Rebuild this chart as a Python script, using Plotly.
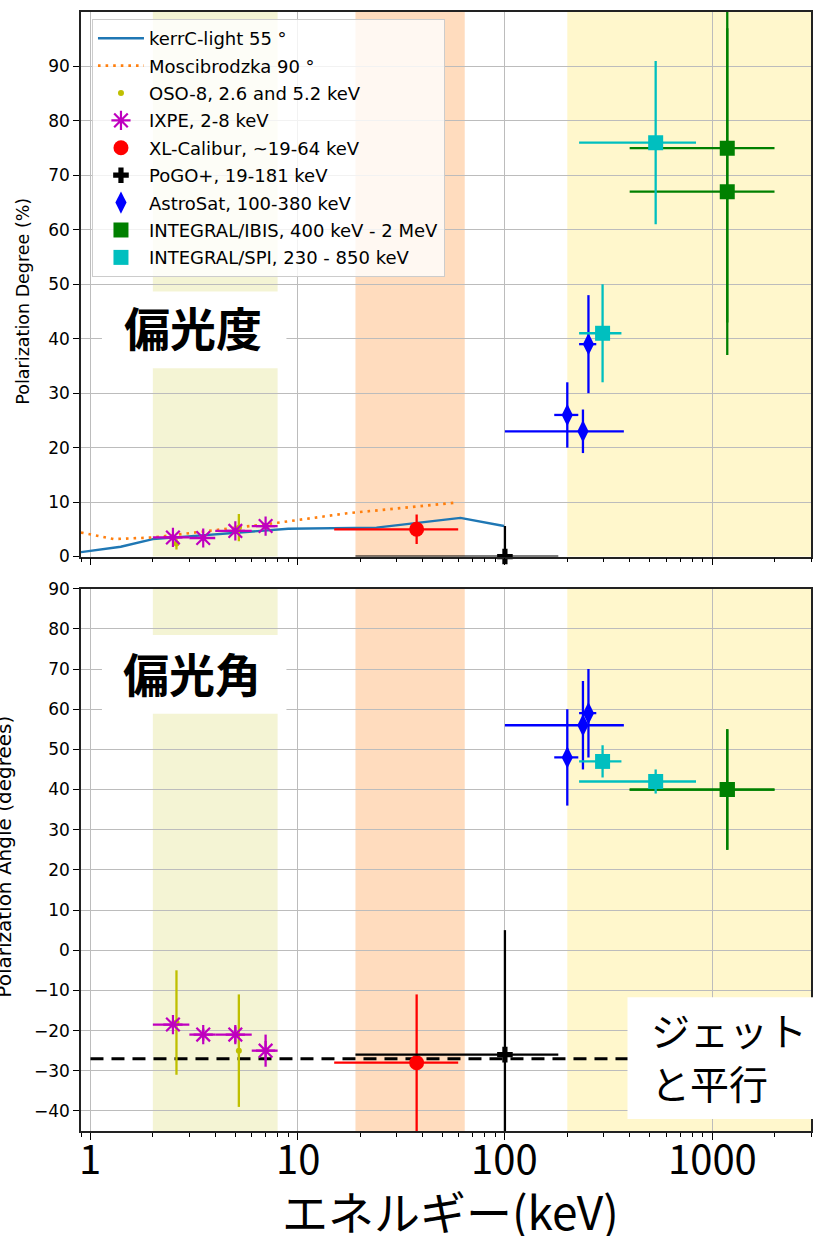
import math
import plotly.graph_objects as go

# ---------------- data ----------------
kerr_E = [0.9, 1.4, 2.0, 9.0, 24.0, 61.0, 99.0]
kerr_PD = [0.8, 1.8, 3.2, 5.1, 5.3, 7.1, 5.6]

mosc_E = [0.9, 1.3, 2.0, 4.0, 8.0, 17.0, 35.0, 58.0]
mosc_PD = [4.4, 3.2, 3.5, 4.8, 6.2, 7.9, 9.0, 9.9]

oso_E = [2.6, 5.2]
oso_PD = [2.4, 5.3]
oso_PD_err = [1.1, 2.5]
oso_PA = [-18.0, -25.0]
oso_PA_err = [13.0, 14.0]

ixpe_E = [2.5, 3.5, 5.0, 7.0]
ixpe_E_err = [0.5, 0.5, 1.0, 1.0]
ixpe_PD = [3.5, 3.4, 4.7, 5.6]
ixpe_PD_err = [0.3, 0.3, 0.4, 0.5]
ixpe_PA = [-18.5, -21.0, -21.0, -25.0]
ixpe_PA_err = [1.0, 1.5, 2.0, 4.0]

xl_E = [37.5]
xl_E_lo = [22.5]
xl_E_hi = [22.0]
xl_PD = [5.0]
xl_PD_err = [2.7]
xl_PA = [-28.0]
xl_PA_err = [17.0]

pogo_E = [100.0]
pogo_E_lo = [81.0]
pogo_E_hi = [81.0]
pogo_PD = [0.0]
pogo_PD_hi = [5.6]
pogo_PD_lo = [0.0]
pogo_PA = [-26.0]
pogo_PA_err = [31.0]

astro_E = [200.0, 238.0, 253.0]
astro_E_lo = [27.0, 138.0, 25.0]
astro_E_hi = [26.0, 137.0, 23.0]
astro_PD = [26.0, 23.0, 39.0]
astro_PD_err = [6.0, 4.0, 9.0]
astro_PA = [48.0, 56.0, 59.0]
astro_PA_err = [12.0, 11.0, 11.0]

ibis_E = [1183.0, 1183.0]
ibis_E_lo = [783.0, 783.0]
ibis_E_hi = [817.0, 817.0]
ibis_PD = [75.0, 67.0]
ibis_PD_err = [32.0, 30.0]
ibis_PA = [40.0, 40.0]
ibis_PA_err = [15.0, 15.0]

spi_E = [296.0, 534.0]
spi_E_lo = [68.0, 306.0]
spi_E_hi = [69.0, 302.0]
spi_PD = [41.0, 76.0]
spi_PD_err = [9.0, 15.0]
spi_PA = [47.0, 42.0]
spi_PA_err = [4.0, 3.0]

jet_E = [1.0, 3000.0]
jet_PA = [-27.0, -27.0]

band_lo = [2.0, 19.0, 200.0]
band_hi = [8.0, 64.0, 3000.0]
band_colors = ["rgba(191,191,0,0.17)", "rgba(255,127,14,0.27)", "rgba(255,215,0,0.20)"]

x_major = [1, 10, 100, 1000]
x_major_text = ["1", "10", "100", "1000"]
pd_ticks = list(range(0, 100, 10))
pa_ticks = list(range(-40, 100, 10))

# ---------------- layout helpers ----------------
W, H = 815, 1236
L, R, T, B = 81, 813, 10, 1131


def px(xp):
    return (xp - L) / (R - L)


def py(yp):
    return (B - yp) / (B - T)


minor_vals = []
for dec in [0.1, 1, 10, 100, 1000]:
    for m in range(2, 10):
        v = m * dec
        if 0.9 <= v <= 3000:
            minor_vals.append(v)

fig = go.Figure()

EB = dict(thickness=2.3, width=0)


def err(arr, color, arrminus=None):
    d = dict(type="data", array=arr, color=color, **EB)
    if arrminus is not None:
        d["symmetric"] = False
        d["arrayminus"] = arrminus
    return d


# --- top panel ---
fig.add_trace(go.Scatter(x=kerr_E, y=kerr_PD, mode="lines", name="kerrC-light 55 °",
                         line=dict(color="#1f77b4", width=2.4), legendgroup="a",
                         xaxis="x", yaxis="y"))
fig.add_trace(go.Scatter(x=mosc_E, y=mosc_PD, mode="lines", name="Moscibrodzka 90 °",
                         line=dict(color="#ff7f0e", width=2.6, dash="2.6px,5px"),
                         legendgroup="b", xaxis="x", yaxis="y"))

series = [
    ("OSO-8, 2.6 and 5.2 keV", "#bfbf00", dict(symbol="circle", size=6),
     oso_E, None, None, oso_PD, oso_PD_err, None, oso_PA, oso_PA_err, "c"),
    ("IXPE, 2-8 keV", "#bf00bf", dict(symbol="asterisk-open", size=16, line=dict(width=2.2, color="#bf00bf")),
     ixpe_E, ixpe_E_err, ixpe_E_err, ixpe_PD, ixpe_PD_err, None, ixpe_PA, ixpe_PA_err, "d"),
    ("XL-Calibur, ~19-64 keV", "#ff0000", dict(symbol="circle", size=15),
     xl_E, xl_E_hi, xl_E_lo, xl_PD, xl_PD_err, None, xl_PA, xl_PA_err, "e"),
    ("PoGO+, 19-181 keV", "#000000", dict(symbol="cross", size=13),
     pogo_E, pogo_E_hi, pogo_E_lo, pogo_PD, pogo_PD_hi, pogo_PD_lo, pogo_PA, pogo_PA_err, "f"),
    ("AstroSat, 100-380 keV", "#0000ff", dict(symbol="diamond-tall", size=16),
     astro_E, astro_E_hi, astro_E_lo, astro_PD, astro_PD_err, None, astro_PA, astro_PA_err, "g"),
    ("INTEGRAL/IBIS, 400 keV - 2 MeV", "#008000", dict(symbol="square", size=15),
     ibis_E, ibis_E_hi, ibis_E_lo, ibis_PD, ibis_PD_err, None, ibis_PA, ibis_PA_err, "h"),
    ("INTEGRAL/SPI, 230 - 850 keV", "#00bfbf", dict(symbol="square", size=15),
     spi_E, spi_E_hi, spi_E_lo, spi_PD, spi_PD_err, None, spi_PA, spi_PA_err, "i"),
]

for (name, col, mk, E, Ehi, Elo, PD, PDe, PDlo, PA, PAe, grp) in series:
    mk = dict(mk)
    mk["color"] = col
    ex = None
    if Ehi is not None:
        ex = err(Ehi, col, Elo)
    fig.add_trace(go.Scatter(x=E, y=PD, mode="markers", name=name, marker=mk,
                             error_x=ex, error_y=err(PDe, col, PDlo),
                             cliponaxis=(grp != "f"),
                             legendgroup=grp, xaxis="x", yaxis="y"))

# --- bottom panel ---
fig.add_trace(go.Scatter(x=jet_E, y=jet_PA, mode="lines", showlegend=False,
                         line=dict(color="black", width=3, dash="13px,8px"),
                         xaxis="x2", yaxis="y2"))
for (name, col, mk, E, Ehi, Elo, PD, PDe, PDlo, PA, PAe, grp) in series:
    mk = dict(mk)
    mk["color"] = col
    ex = None
    if Ehi is not None:
        ex = err(Ehi, col, Elo)
    fig.add_trace(go.Scatter(x=E, y=PA, mode="markers", name=name, marker=mk,
                             error_x=ex, error_y=err(PAe, col),
                             legendgroup=grp, showlegend=False, xaxis="x2", yaxis="y2"))

shapes = []
for lo, hi, c in zip(band_lo, band_hi, band_colors):
    for xr, yr in [("x", "y domain"), ("x2", "y2 domain")]:
        shapes.append(dict(type="rect", xref=xr, yref=yr, x0=lo, x1=hi, y0=0, y1=1,
                           fillcolor=c, line=dict(width=0), layer="below"))

# white label boxes
for (x0, x1, y0, y1) in [(102, 287, 290, 367), (102, 287, 634, 713), (629, 816, 997, 1119)]:
    shapes.append(dict(type="rect", xref="paper", yref="paper", x0=px(x0), x1=px(x1),
                       y0=py(y1), y1=py(y0), fillcolor="white", line=dict(width=0), layer="above"))

CJK = "Noto Sans CJK JP"


def ann(text, xp, yp, size, family=CJK, xanchor="center", angle=0):
    return dict(text=text, x=px(xp), y=py(yp), xref="paper", yref="paper",
                xanchor=xanchor, yanchor="middle", textangle=angle, showarrow=False,
                font=dict(family=family, size=size, color="black"))


annotations = [
    ann("<b>偏光度</b>", 193, 325, 46),
    ann("<b>偏光角</b>", 192, 671, 46),
    ann("ジェット", 651, 1029, 39, xanchor="left"),
    ann("と平行", 651, 1082, 39, xanchor="left"),
    ann("エネルギー(keV)", 452, 1210, 46),
    ann("Polarization Degree (%)", 23, 300, 17.5, family="DejaVu Sans", angle=-90),
    ann("Polarization Angle (degrees)", 4, 856, 20, family="DejaVu Sans", angle=-90),
]

# x tick labels of the lower panel, placed through the x2 axis
for v, t in zip(x_major, x_major_text):
    annotations.append(dict(text=t, x=math.log10(v), xref="x2", y=py(1157), yref="paper",
                            xanchor="center", yanchor="middle", showarrow=False,
                            font=dict(family=CJK, size=40, color="black")))

axcommon = dict(showline=True, linecolor="#222222", linewidth=1.6, mirror=True,
                gridcolor="#bcbcbc", gridwidth=1.3, zeroline=False, ticks="outside",
                tickcolor="black", tickwidth=1.3)

xcommon = dict(axcommon, type="log", range=[math.log10(0.9), math.log10(3000)],
               tickmode="array", tickvals=x_major, ticklen=7, showticklabels=False,
               minor=dict(tickmode="array", tickvals=minor_vals, ticks="outside",
                          ticklen=4, tickcolor="black", tickwidth=1, showgrid=False))

fig.update_layout(
    width=W, height=H,
    margin=dict(l=L, r=W - R, t=T, b=H - B),
    paper_bgcolor="white", plot_bgcolor="white",
    showlegend=True,
    legend=dict(x=px(92), y=py(17), xanchor="left", yanchor="top",
                bgcolor="rgba(255,255,255,0.8)", bordercolor="#cccccc", borderwidth=1,
                font=dict(family="DejaVu Sans", size=18, color="black"),
                tracegroupgap=1, traceorder="grouped", itemwidth=46),
    xaxis=dict(xcommon, domain=[0, 1], anchor="y"),
    xaxis2=dict(xcommon, domain=[0, 1], anchor="y2", matches="x"),
    yaxis=dict(axcommon, domain=[py(555.5), 1], range=[0, 100], tickmode="array",
               tickvals=pd_ticks, ticklen=6,
               tickfont=dict(family="DejaVu Sans", size=17, color="black")),
    yaxis2=dict(axcommon, domain=[0, py(587.7)], range=[-45, 90], tickmode="array",
                tickvals=pa_ticks, ticklen=6,
                tickfont=dict(family="DejaVu Sans", size=17, color="black")),
    shapes=shapes,
    annotations=annotations,
)

fig.write_html("out.html", config={"displayModeBar": False},
               post_script="document.body.style.margin='0';document.body.style.overflow='hidden';")
